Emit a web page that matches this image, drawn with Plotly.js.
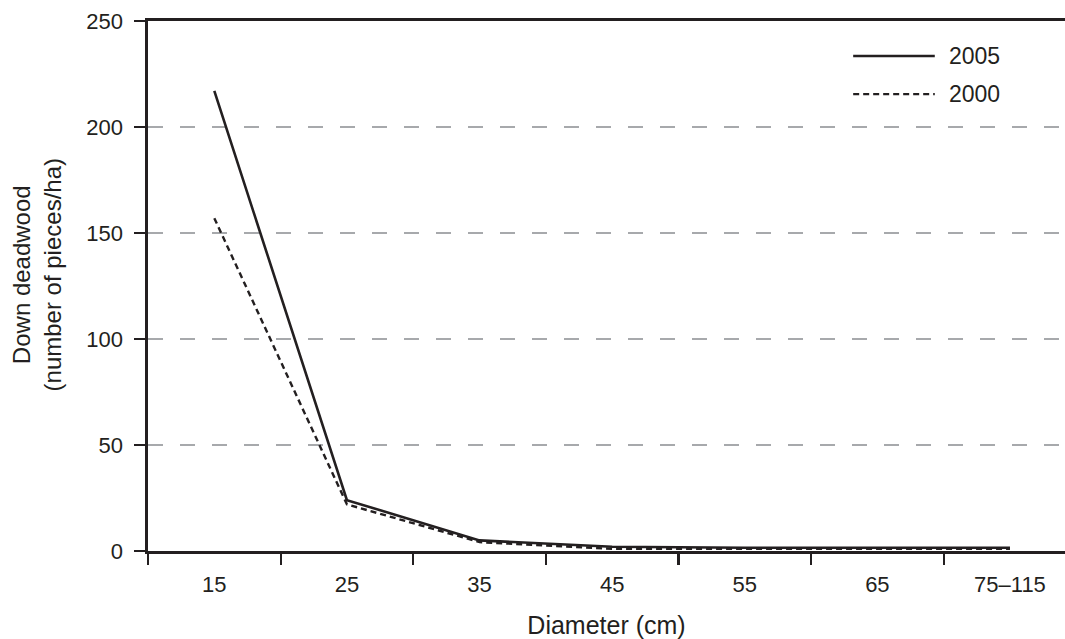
<!DOCTYPE html>
<html>
<head>
<meta charset="utf-8">
<script src="https://cdn.plot.ly/plotly-3.0.1.min.js"></script>
<style>html,body{margin:0;padding:0;background:#fff;}#chart{width:1065px;height:639px;}</style>
</head>
<body>
<div id="chart"></div>
<script>
const diameters = ["15", "25", "35", "45", "55", "65", "75–115"];
const pieces2005 = [217, 24, 5, 2, 1.5, 1.5, 1.5];
const pieces2000 = [157, 22, 4.2, 1, 1, 1, 1];
const seriesNames = ["2005", "2000"];
const yTicks = [0, 50, 100, 150, 200, 250];
const xTitle = "Diameter (cm)";
const yTitle = "Down deadwood<br>(number of pieces/ha)";

const ink = "#231f20";
const font = "Liberation Sans, Arial, Helvetica, sans-serif";

const traces = [
  {x: diameters, y: pieces2005, name: seriesNames[0], type: "scatter", mode: "lines",
   line: {color: ink, width: 2.6}, showlegend: false, cliponaxis: false},
  {x: diameters, y: pieces2000, name: seriesNames[1], type: "scatter", mode: "lines",
   line: {color: ink, width: 2.4, dash: "6px,4px"}, showlegend: false, cliponaxis: false}
];

const legY = [0.934, 0.862];
const shapes = [
  {type: "line", xref: "paper", yref: "paper", x0: 0.769, x1: 0.858, y0: legY[0], y1: legY[0],
   line: {color: ink, width: 2.6}},
  {type: "line", xref: "paper", yref: "paper", x0: 0.769, x1: 0.858, y0: legY[1], y1: legY[1],
   line: {color: ink, width: 2.4, dash: "6px,4px"}}
];
const annotations = seriesNames.map((n, i) => ({
  text: n, xref: "paper", yref: "paper", x: 0.871, y: legY[i], xanchor: "left", yanchor: "middle",
  showarrow: false, font: {family: font, size: 23, color: ink}
}));
annotations.push({
  text: yTitle, xref: "paper", yref: "paper", x: -0.1215, y: 0.521, xanchor: "center", yanchor: "middle",
  textangle: -90, showarrow: false, font: {family: font, size: 24, color: ink}
});

const layout = {
  width: 1065, height: 639,
  margin: {l: 148, r: 0, t: 21, b: 88},
  paper_bgcolor: "#fff", plot_bgcolor: "#fff",
  font: {family: font, color: ink, size: 22},
  showlegend: false,
  xaxis: {
    type: "category", categoryorder: "array", categoryarray: diameters,
    range: [-0.5, 6.415],
    tickson: "boundaries", ticks: "outside", ticklen: 11, tickwidth: 2.2, tickcolor: ink,
    showline: true, linecolor: ink, linewidth: 2.6, mirror: true,
    showgrid: false, zeroline: false,
    tickfont: {family: font, size: 22, color: ink},
    ticklabelstandoff: 12,
    title: {text: xTitle, font: {family: font, size: 25, color: ink}, standoff: 23}
  },
  yaxis: {
    range: [0, 250], tickvals: yTicks, ticktext: yTicks.map(String),
    ticks: "outside", ticklen: 11, tickwidth: 2.6, tickcolor: ink,
    showline: true, linecolor: ink, linewidth: 2.6,
    showgrid: true, gridcolor: "#a7a9ac", gridwidth: 1.3, griddash: "15px,17px",
    zeroline: false,
    tickfont: {family: font, size: 22, color: ink},
    ticklabelstandoff: 7
  },
  shapes: shapes,
  annotations: annotations
};

Plotly.newPlot("chart", traces, layout, {displayModeBar: false, staticPlot: true});
</script>
</body>
</html>
